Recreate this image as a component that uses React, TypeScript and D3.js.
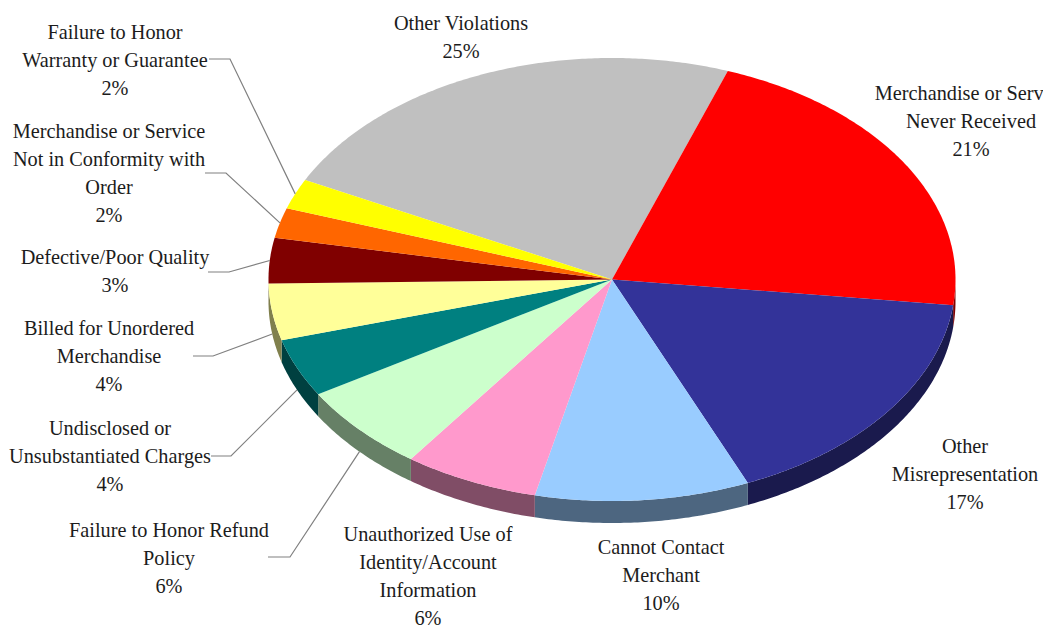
import React from "react";
import * as d3 from "d3";

// Share of complaints by category, clockwise from the rear of the disc.
const categories = [
  "Other Violations",
  "Merchandise or Service Never Received",
  "Other Misrepresentation",
  "Cannot Contact Merchant",
  "Unauthorized Use of Identity/Account Information",
  "Failure to Honor Refund Policy",
  "Undisclosed or Unsubstantiated Charges",
  "Billed for Unordered Merchandise",
  "Defective/Poor Quality",
  "Merchandise or Service Not in Conformity with Order",
  "Failure to Honor Warranty or Guarantee",
];
const shares = [25, 21, 17, 10, 6, 6, 4, 4, 3, 2, 2];
const faceColors = [
  "#C0C0C0", "#FF0000", "#333399", "#99CCFF", "#FF99CC", "#CCFFCC",
  "#008080", "#FFFF99", "#800000", "#FF6600", "#FFFF00",
];
const labelLines = [
  ["Other Violations"],
  ["Merchandise or Service", "Never Received"],
  ["Other", "Misrepresentation"],
  ["Cannot Contact", "Merchant"],
  ["Unauthorized Use of", "Identity/Account", "Information"],
  ["Failure to Honor Refund", "Policy"],
  ["Undisclosed or", "Unsubstantiated Charges"],
  ["Billed for Unordered", "Merchandise"],
  ["Defective/Poor Quality"],
  ["Merchandise or Service", "Not in Conformity with", "Order"],
  ["Failure to Honor", "Warranty or Guarantee"],
];
// Label anchor: centre x and first baseline.
const labelAnchors: [number, number][] = [
  [461, 30], [971, 100], [965, 453], [661, 554], [428, 540.5], [169, 537],
  [110, 435], [109, 335], [115, 264], [109, 138], [115, 39],
];
// Leader lines for the small slices: text-side start and elbow; null means no leader.
const leaders: ([number, number, number] | null)[] = [
  null, null, null, null, null,
  [268, 290, 557], [211, 231, 456], [193, 213, 356], [208, 229, 272], [205, 226, 173], [209, 230, 59],
];
// Leaders of these slices land on the side wall rather than the top rim.
const leaderOnWall = [false, false, false, false, false, true, true, true, false, false, false];

const W = 1048;
const H = 625;
const CX = 612;
const CY = 279.5;
const RX = 343.5;
const RY = 221.5;
const DEPTH = 22;
const START_DEG = -63.3;
const LINE_H = 28;

// Camera foreshortening of the tilted disc, in degrees along the rim.
const foreshorten = d3
  .scaleLinear()
  .domain([0, 90, 166, 227, 265, 320, 335, 360])
  .range([0, 7, 5.6, 6.8, 6.5, 3, 2.5, 0]);

const screenAngle = (t: number) => {
  const deg = (t * 180) / Math.PI;
  return ((START_DEG + deg - foreshorten(deg)) * Math.PI) / 180;
};
const rimPoint = (t: number, drop = 0): [number, number] => {
  const a = screenAngle(t);
  return [CX + RX * Math.sin(a), CY - RY * Math.cos(a) + drop];
};
const rimParams = (t0: number, t1: number) => {
  const n = Math.max(2, Math.ceil((t1 - t0) / 0.01));
  return d3.range(n + 1).map((i) => t0 + ((t1 - t0) * i) / n);
};
// Wraps a screen angle to (0, 2π) so the front half is 90°..270°.
const wrapped = (a: number) => ((a % (2 * Math.PI)) + 2 * Math.PI) % (2 * Math.PI);
// Half-brightness tone used on the side wall.
const shade = (hex: string) => {
  const c = d3.rgb(hex);
  return d3.rgb(c.r * 0.5, c.g * 0.5, c.b * 0.5).formatHex();
};

const pathOf = d3.line();
const pieGen = d3.pie<number>().sort(null).value((d) => d);

export default function App() {
  const arcs = pieGen(shares);

  // Side wall: only the part of each slice facing the viewer is visible.
  const walls = arcs.map((arc, i) => {
    const front = rimParams(arc.startAngle, arc.endAngle).filter((t) => {
      const a = wrapped(screenAngle(t));
      return a >= Math.PI / 2 && a <= (3 * Math.PI) / 2;
    });
    if (front.length < 2) return null;
    const upper = front.map((t) => rimPoint(t));
    const lower = front.map((t) => rimPoint(t, DEPTH)).reverse();
    return <path key={i} d={pathOf([...upper, ...lower]) + "Z"} fill={shade(faceColors[i])} />;
  });

  const faces = arcs.map((arc, i) => {
    const rim = rimParams(arc.startAngle, arc.endAngle).map((t) => rimPoint(t));
    return <path key={i} d={pathOf([[CX, CY], ...rim]) + "Z"} fill={faceColors[i]} />;
  });

  const leaderLines = arcs.map((arc, i) => {
    const l = leaders[i];
    if (!l) return null;
    const mid = (arc.startAngle + arc.endAngle) / 2;
    const end = rimPoint(mid, leaderOnWall[i] ? DEPTH : 0);
    const pts: [number, number][] = [[l[0], l[2]], [l[1], l[2]], end];
    return <path key={i} d={pathOf(pts)!} fill="none" stroke="#808080" strokeWidth={1.2} />;
  });

  const labels = labelLines.map((lines, i) => {
    const [x, y] = labelAnchors[i];
    return (
      <text key={categories[i]} x={x} y={y} textAnchor="middle" fontFamily="'Liberation Serif', serif" fontSize={20.3} fill="#1c1c1c">
        {[...lines, `${shares[i]}%`].map((line, k) => (
          <tspan key={k} x={x} y={y + k * LINE_H}>{line}</tspan>
        ))}
      </text>
    );
  });

  return (
    <svg width={W} height={H} viewBox={`0 0 ${W} ${H}`} style={{ position: "absolute", left: 0, top: 0, background: "#fff" }}>
      <defs>
        <clipPath id="plot-frame">
          <rect x={0} y={0} width={1043} height={H} />
        </clipPath>
      </defs>
      <g clipPath="url(#plot-frame)">
        {walls}
        {faces}
        {leaderLines}
        {labels}
      </g>
    </svg>
  );
}
